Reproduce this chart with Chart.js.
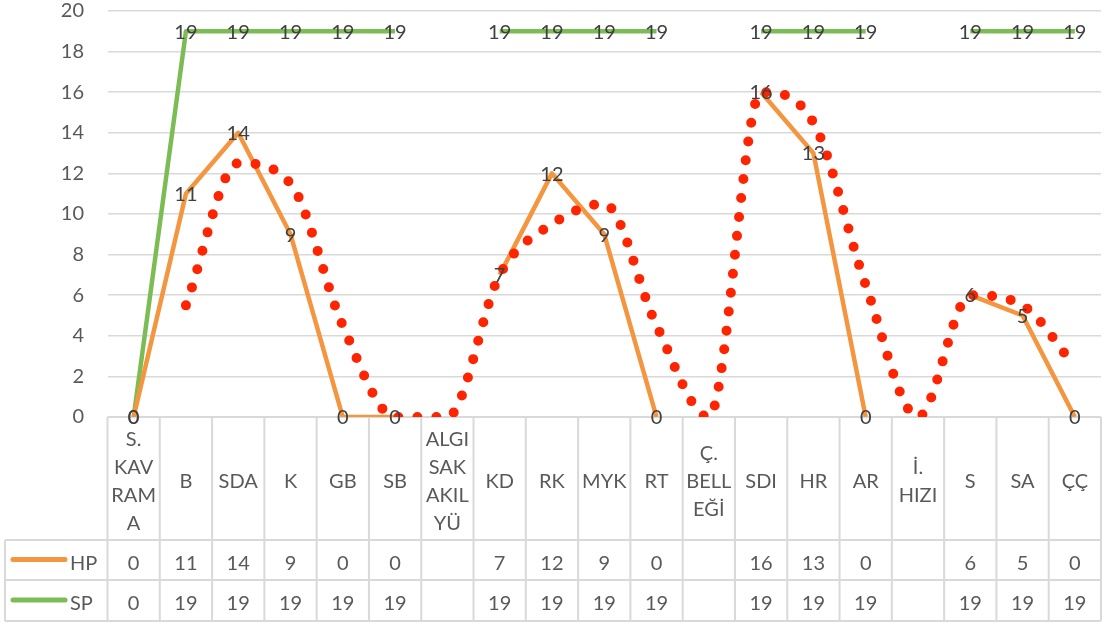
<!DOCTYPE html>
<html>
<head>
<meta charset="utf-8">
<script src="https://cdn.jsdelivr.net/npm/chart.js@4/dist/chart.umd.min.js"></script>
<style>
  html, body { margin: 0; padding: 0; background: #ffffff; }
  #wrap { width: 1104px; height: 626px; }
</style>
</head>
<body>
<div id="wrap"><canvas id="c" width="1104" height="626"></canvas></div>
<script>
// ---- data ----
const categories = [
  ["S.", "KAV", "RAM", "A"], "B", "SDA", "K", "GB", "SB",
  ["ALGI", "SAK", "AKIL", "YÜ"], "KD", "RK", "MYK", "RT",
  ["Ç.", "BELL", "EĞİ"], "SDI", "HR", "AR", ["İ.", "HIZI"], "S", "SA", "ÇÇ"
];
const hpValues = [0, 11, 14, 9, 0, 0, null, 7, 12, 9, 0, null, 16, 13, 0, null, 6, 5, 0];
const spValues = [0, 19, 19, 19, 19, 19, null, 19, 19, 19, 19, null, 19, 19, 19, null, 19, 19, 19];
// moving-average trend line
const trendValues = [null, 5.5, 12.5, 11.5, 4.5, 0, 0, 7, 9.5, 10.5, 4.5, 0, 16, 14.5, 6.5, 0, 6, 5.5, 2.5];
const yTicks = [0, 2, 4, 6, 8, 10, 12, 14, 16, 18, 20];
const seriesNames = ["HP", "SP"];

// ---- style ----
const FONT = "Lato";
const ORANGE = "#F4953F";
const GREEN = "#7CBC55";
const RED = "#FF2400";
const GRID = "#D9D9D9";
const TEXT = "#595959";
const LABEL = "#404040";

const tablePlugin = {
  id: "tablePlugin",
  beforeDatasetsDraw(chart) {
    const ctx = chart.ctx;
    const area = chart.chartArea;
    const x = chart.scales.x;
    const n = categories.length;
    const cw = (area.right - area.left) / n;
    const top = area.bottom;
    const row1 = 540, row2 = 580, row3 = 621;
    const legLeft = 5;
    ctx.save();
    ctx.strokeStyle = GRID;
    ctx.lineWidth = 2;
    ctx.beginPath();
    ctx.moveTo(area.left, top); ctx.lineTo(area.right, top);
    [row1, row2, row3].forEach(y => { ctx.moveTo(legLeft, y); ctx.lineTo(area.right, y); });
    for (let i = 0; i <= n; i++) {
      const xx = area.left + i * cw;
      ctx.moveTo(xx, top); ctx.lineTo(xx, row3);
    }
    ctx.moveTo(legLeft, row1); ctx.lineTo(legLeft, row3);
    ctx.stroke();

    ctx.fillStyle = TEXT;
    ctx.font = "20px " + FONT;
    ctx.textAlign = "center";
    ctx.textBaseline = "alphabetic";
    const capOff = 7.2;
    const lh = 28;
    const catCenter = (top + row1) / 2 + 2.5;
    categories.forEach((c, i) => {
      const lines = Array.isArray(c) ? c : [c];
      const cx = x.getPixelForValue(i);
      const start = catCenter - (lines.length - 1) * lh / 2;
      lines.forEach((t, k) => ctx.fillText(t, cx, start + k * lh + capOff));
    });
    const rows = [[hpValues, (row1 + row2) / 2 + 2.5, ORANGE], [spValues, (row2 + row3) / 2 + 2.5, GREEN]];
    rows.forEach(([vals, cy, col], r) => {
      ctx.fillStyle = TEXT;
      ctx.textAlign = "center";
      vals.forEach((v, i) => {
        if (v === null) return;
        ctx.fillText(String(v), x.getPixelForValue(i), cy + capOff);
      });
      ctx.strokeStyle = col;
      ctx.lineWidth = 5;
      ctx.lineCap = "round";
      ctx.beginPath();
      ctx.moveTo(13, cy - 3); ctx.lineTo(65, cy - 3);
      ctx.stroke();
      ctx.textAlign = "left";
      ctx.fillText(seriesNames[r], 70, cy + capOff);
    });
    ctx.restore();
  },
  afterDatasetsDraw(chart) {
    const ctx = chart.ctx;
    ctx.save();
    ctx.fillStyle = LABEL;
    ctx.font = "20px " + FONT;
    ctx.textAlign = "center";
    ctx.textBaseline = "alphabetic";
    [0, 1].forEach(di => {
      const meta = chart.getDatasetMeta(di);
      const vals = chart.data.datasets[di].data;
      meta.data.forEach((pt, i) => {
        if (vals[i] === null) return;
        ctx.fillText(String(vals[i]), pt.x, pt.y + 7.2);
      });
    });
    ctx.restore();
  }
};

function draw() {
  new Chart(document.getElementById("c"), {
    type: "line",
    data: {
      labels: categories.map(c => Array.isArray(c) ? c.join(" ") : c),
      datasets: [
        { label: "HP", data: hpValues, borderColor: ORANGE, borderWidth: 4.5, pointRadius: 0,
          spanGaps: false, tension: 0, order: 1, borderJoinStyle: "round" },
        { label: "SP", data: spValues, borderColor: GREEN, borderWidth: 4.5, pointRadius: 0,
          spanGaps: false, tension: 0, order: 2, borderJoinStyle: "round" },
        { label: "trend", data: trendValues, borderColor: RED, borderWidth: 10, pointRadius: 0,
          borderDash: [0, 19], borderCapStyle: "round", cubicInterpolationMode: "monotone",
          spanGaps: true, clip: 0, order: 0 }
      ]
    },
    options: {
      responsive: false,
      animation: false,
      events: [],
      layout: { padding: { left: 0, top: 11, right: 3, bottom: 209 } },
      plugins: { legend: { display: false }, tooltip: { enabled: false } },
      scales: {
        x: { type: "category", offset: true, display: false },
        y: {
          min: 0, max: 20,
          afterBuildTicks(s) { s.ticks = yTicks.map(v => ({ value: v })); },
          afterFit(s) { s.width = 107.5; s.paddingTop = 0; s.paddingBottom = 0; },
          border: { display: false },
          grid: { color: GRID, lineWidth: 1.5, drawTicks: false },
          ticks: { color: TEXT, padding: 23.5, font: { family: FONT, size: 20, lineHeight: 1.1 } }
        }
      }
    },
    plugins: [tablePlugin]
  });
}

if (document.fonts && document.fonts.load) {
  document.fonts.load("20px " + FONT).then(draw, draw);
} else {
  draw();
}
</script>
</body>
</html>
